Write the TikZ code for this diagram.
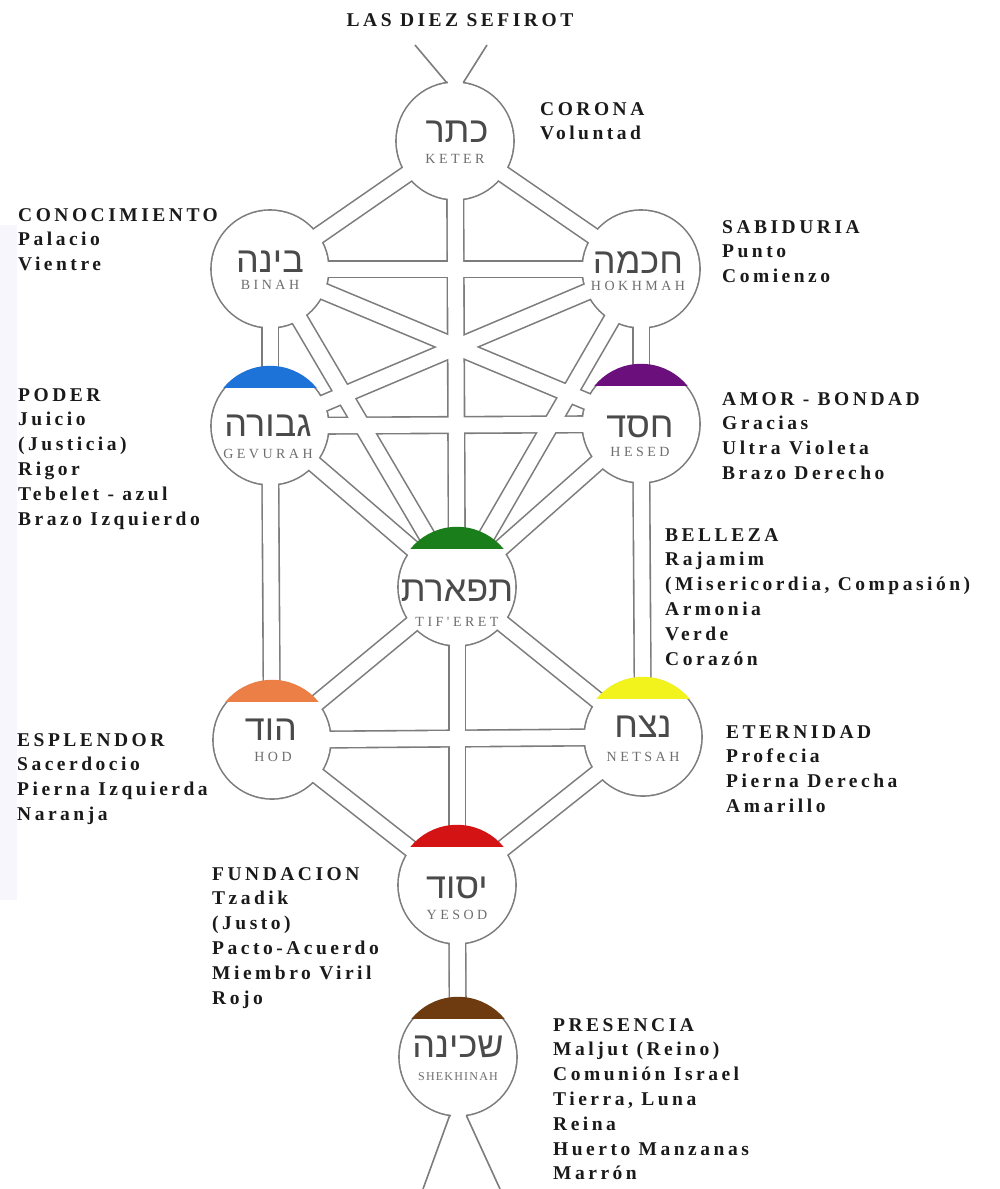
\documentclass[tikz,border=0pt]{standalone}
\usepackage{fontspec}
\setmainfont{Liberation Serif}
\newfontfamily\lblfont{Liberation Serif}[LetterSpace=18]
\newfontfamily\trfont{Liberation Serif}[LetterSpace=25]
\newfontfamily\trnarrow{Liberation Serif}[LetterSpace=10]
\newfontfamily\hebfont[Script=Hebrew]{Liberation Sans}
\TeXXeTstate=1
\usetikzlibrary{calc}
\definecolor{wall}{HTML}{7C7C7C}
\definecolor{hebgray}{HTML}{4A4A4A}
\definecolor{trgray}{HTML}{6E6E6E}
\definecolor{lblcol}{HTML}{1A1A1A}
\definecolor{capblue}{HTML}{1E73D8}
\definecolor{cappurple}{HTML}{6B0F7D}
\definecolor{capgreen}{HTML}{1A7F1A}
\definecolor{caporange}{HTML}{EB7F45}
\definecolor{capyellow}{HTML}{F2F21C}
\definecolor{capred}{HTML}{D41414}
\definecolor{capbrown}{HTML}{6E3B10}
\definecolor{band}{HTML}{F6F6FC}
\begin{document}
\begin{tikzpicture}[x=1pt,y=-1pt,
  chanout/.style={line width=18.2pt, draw=wall},
  chanin/.style={line width=15pt, draw=white},
  wallline/.style={line width=1.6pt, draw=wall},
  heb/.style={font=\hebfont\fontsize{36}{36}\selectfont, text=hebgray, inner sep=0},
  tr/.style={font=\trfont\fontsize{14}{14}\selectfont, text=trgray, inner sep=0},
  lbl/.style={font=\lblfont\bfseries\fontsize{19.5}{24.8}\selectfont, align=left, anchor=north west, inner sep=0, text=lblcol}]
\useasboundingbox (0,0) rectangle (1000,1189);
\fill[white] (0,0) rectangle (1000,1189);
\fill[band] (0,225) rectangle (17,900);

% sefirot centres
\coordinate (keter) at (455,141);
\coordinate (binah) at (270,269);
\coordinate (chokh) at (641,269);
\coordinate (gev) at (270,426);
\coordinate (chesed) at (641,424);
\coordinate (tif) at (457,587);
\coordinate (hod) at (272,740);
\coordinate (netsah) at (643,737);
\coordinate (yesod) at (457,885);
\coordinate (shek) at (458,1057);
\coordinate (topL) at (415,45);
\coordinate (topR) at (487,45);
\coordinate (botL) at (423,1189);
\coordinate (botR) at (500,1189);

\def\paths{keter/binah, keter/chokh, keter/tif, binah/chokh, binah/gev, chokh/chesed, binah/tif, chokh/tif, binah/chesed, chokh/gev, gev/chesed, gev/tif, chesed/tif, gev/hod, chesed/netsah, tif/hod, tif/netsah, tif/yesod, hod/netsah, hod/yesod, netsah/yesod, yesod/shek}
\def\sefs{keter, binah, chokh, gev, chesed, tif, hod, netsah, yesod, shek}

% wall layer
\foreach \a/\b in \paths { \draw[chanout] (\a) -- (\b); }
\foreach \n in \sefs { \fill[wall] (\n) circle (59.8); }
% interior layer
\foreach \a/\b in \paths { \draw[chanin] (\a) -- (\b); }
\foreach \n in \sefs { \fill[white] (\n) circle (58.2); }
% openings at top and bottom
\draw[chanin] (keter) -- ++(0,-60.5);
\draw[chanin] (shek) -- ++(0,60.5);
\draw[wallline] ($(keter)+(-8.3,-58.4)$) -- (topL);
\draw[wallline] ($(keter)+(8.3,-58.4)$) -- (topR);
\draw[wallline] ($(shek)+(-8.3,58.4)$) -- (botL);
\draw[wallline] ($(shek)+(8.3,58.4)$) -- (botR);

% coloured caps
\foreach \n/\c in {gev/capblue, chesed/cappurple, tif/capgreen, hod/caporange, netsah/capyellow, yesod/capred, shek/capbrown} {
  \begin{scope}
    \clip (\n) circle (60.2);
    \fill[\c] ($(\n)+(-70,-70)$) rectangle ($(\n)+(70,-38)$);
  \end{scope}
}

% Hebrew names
\node[heb] (keterH) at (457,132) {\beginR כתר\endR};
\node[heb] (binahH) at (270,262) {\beginR בינה\endR};
\node[heb] (chokhH) at (638,263) {\beginR חכמה\endR};
\node[heb] (gevH) at (268,426) {\beginR גבורה\endR};
\node[heb] (chesedH) at (640,427) {\beginR חסד\endR};
\node[heb] (tifH) at (457,591) {\beginR תפארת\endR};
\node[heb] (hodH) at (271,730) {\beginR הוד\endR};
\node[heb] (netsahH) at (643,727) {\beginR נצח\endR};
\node[heb] (yesodH) at (457,888) {\beginR יסוד\endR};
\node[heb] (shekH) at (458,1047) {\beginR שכינה\endR};

% transliterations
\node[tr] (keterT) at (455,159) {KETER};
\node[tr] (binahT) at (270,285) {BINAH};
\node[tr] (chokhT) at (638,286) {HOKHMAH};
\node[tr] (gevT) at (268,454) {GEVURAH};
\node[tr] (chesedT) at (640,452) {HESED};
\node[tr] (tifT) at (457,622) {TIF'ERET};
\node[tr] (hodT) at (273,757) {HOD};
\node[tr] (netsahT) at (643,757) {NETSAH};
\node[tr] (yesodT) at (457,915) {YESOD};
\node[tr, font=\trnarrow\fontsize{12}{12}\selectfont] (shekT) at (458,1077) {SHEKHINAH};

% labels
\node[lbl, anchor=center] (title) at (460,20) {LAS DIEZ SEFIROT};
\node[lbl] (corona) at (540,102) {CORONA\\Voluntad};
\node[lbl] (sabid) at (722,220) {SABIDURIA\\Punto\\Comienzo};
\node[lbl] (conoc) at (18,208) {CONOCIMIENTO\\Palacio\\Vientre};
\node[lbl] (poder) at (18,388) {PODER\\Juicio\\(Justicia)\\Rigor\\Tebelet - azul\\Brazo Izquierdo};
\node[lbl] (amor) at (722,392) {AMOR - BONDAD\\Gracias\\Ultra Violeta\\Brazo Derecho};
\node[lbl] (belleza) at (665,528) {BELLEZA\\Rajamim\\(Misericordia, Compasión)\\Armonia\\Verde\\Corazón};
\node[lbl] (esplendor) at (17,733) {ESPLENDOR\\Sacerdocio\\Pierna Izquierda\\Naranja};
\node[lbl] (eternidad) at (726,725) {ETERNIDAD\\Profecia\\Pierna Derecha\\Amarillo};
\node[lbl] (fundacion) at (212,867) {FUNDACION\\Tzadik\\(Justo)\\Pacto-Acuerdo\\Miembro Viril\\Rojo};
\node[lbl] (presencia) at (553,1018) {PRESENCIA\\Maljut (Reino)\\Comunión Israel\\Tierra, Luna\\Reina\\Huerto Manzanas\\Marrón};
\end{tikzpicture}
\end{document}
